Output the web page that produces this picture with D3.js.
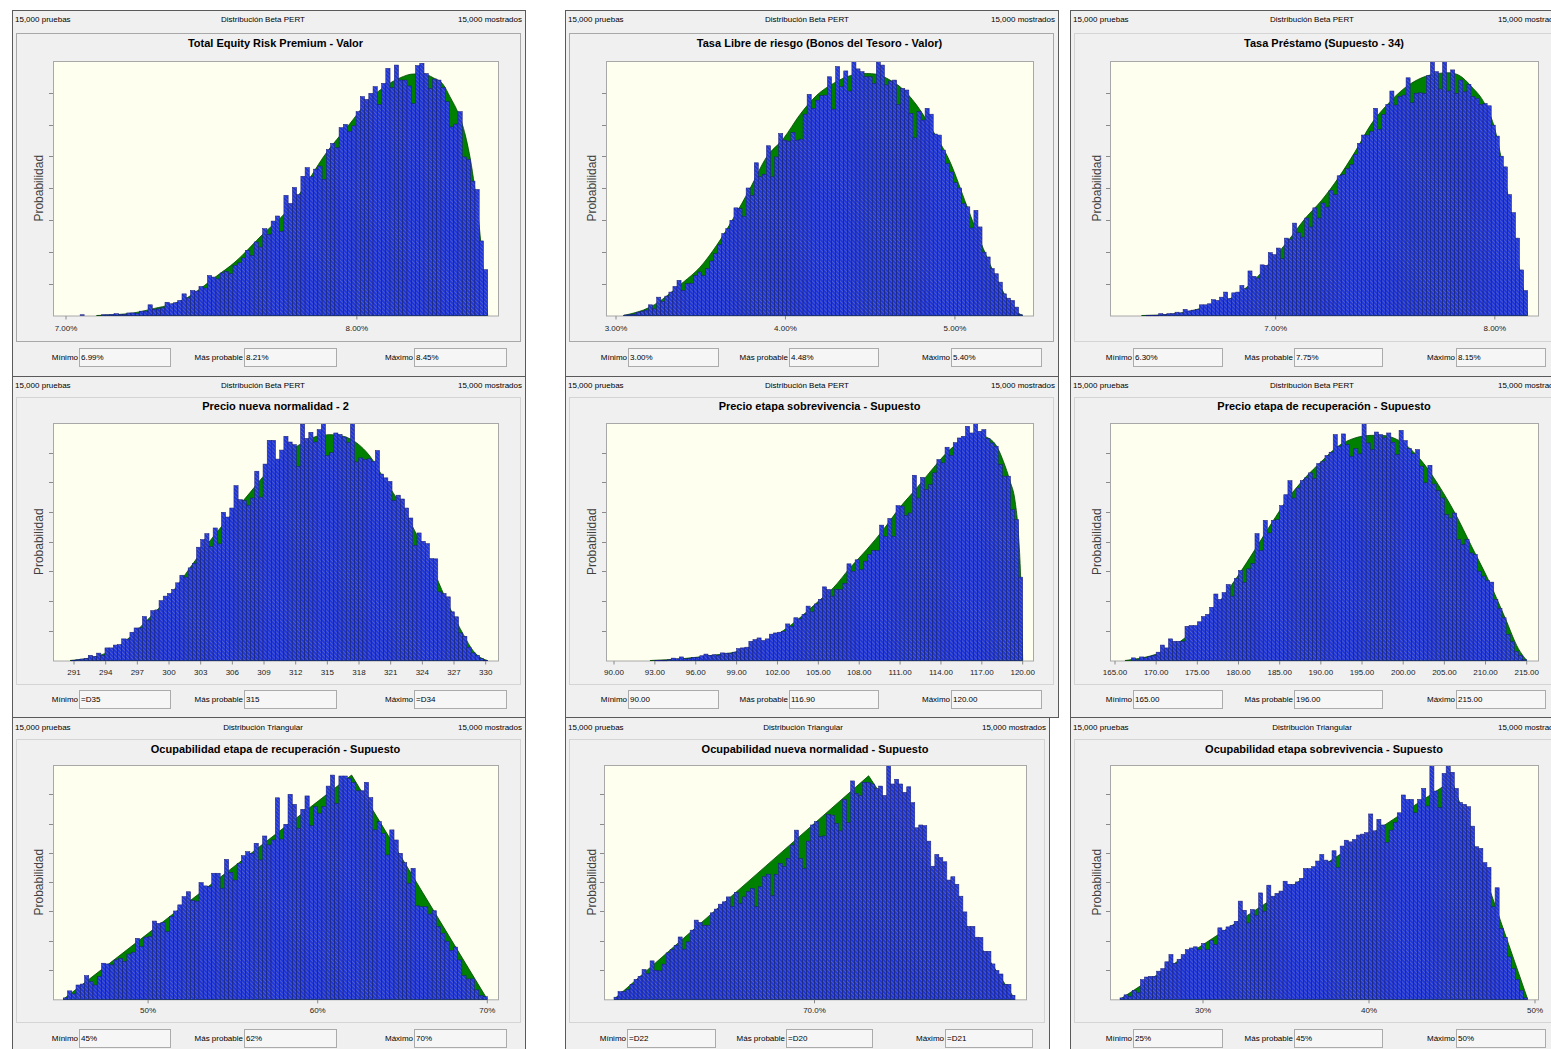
<!DOCTYPE html>
<html>
<head>
<meta charset="utf-8">
<script src="https://cdn.jsdelivr.net/npm/d3@7"></script>
<style>
  body { margin: 0; background: #fff; }
  svg { display: block; }
  text { font-family: 'Liberation Sans', Arial, sans-serif; }
</style>
</head>
<body>
<script>
// ---- data (bar heights are % of the probability axis) ----
var titles = [
  'Total Equity Risk Premium - Valor',
  'Tasa Libre de riesgo (Bonos del Tesoro - Valor)',
  'Tasa Préstamo (Supuesto - 34)',
  'Precio nueva normalidad - 2',
  'Precio etapa sobrevivencia - Supuesto',
  'Precio etapa de recuperación - Supuesto',
  'Ocupabilidad etapa de recuperación - Supuesto',
  'Ocupabilidad nueva normalidad - Supuesto',
  'Ocupabilidad etapa sobrevivencia - Supuesto'
];
var distNames = ['Distribución Beta PERT', 'Distribución Beta PERT', 'Distribución Beta PERT',
  'Distribución Beta PERT', 'Distribución Beta PERT', 'Distribución Beta PERT',
  'Distribución Triangular', 'Distribución Triangular', 'Distribución Triangular'];
var minText = ['6.99%', '3.00%', '6.30%', '=D35', '90.00', '165.00', '45%', '=D22', '25%'];
var modeText = ['8.21%', '4.48%', '7.75%', '315', '116.90', '196.00', '62%', '=D20', '45%'];
var maxText = ['8.45%', '5.40%', '8.15%', '=D34', '120.00', '215.00', '70%', '=D21', '50%'];
var binRanges = [[6.99, 8.45], [3.0, 5.4], [6.3, 8.15], [290.78, 330.19], [90, 120], [165, 215], [45, 70], [60, 80], [25, 49.56]];
var tickValues = [
  [7, 8],
  [3, 4, 5],
  [7, 8],
  [291, 294, 297, 300, 303, 306, 309, 312, 315, 318, 321, 324, 327, 330],
  [90, 93, 96, 99, 102, 105, 108, 111, 114, 117, 120],
  [165, 170, 175, 180, 185, 190, 195, 200, 205, 210, 215],
  [50, 60, 70],
  [70],
  [30, 40, 50]
];

var barsERP = [0,0,0,0,0.3,0,0,0,0,0.3, 0.3,0.4,0.7,0.4,0.4,1.0,1.0,0.8,1.7,1.7,
  4.2,2.4,2.6,3.0,5.2,4.6,5.0,5.9,8.5,6.9, 9.8,9.6,11.4,10.8,15.7,15.1,14.4,16.7,17.3,16.4,
  19.7,20.7,22.6,25.6,23.6,28.9,26.9,34.1,31.9,37.1, 39.1,33.1,47.2,44.0,50.3,47.5,54.7,58.1,54.5,57.5,
  58.7,53.5,65.2,67.6,65.9,73.8,75.1,72.4,74.5,80.1, 86.0,84.9,87.3,89.9,82.9,91.2,97.1,89.5,98.4,92.5,
  92.5,90.2,83.3,98.2,99.1,95.1,89.2,92.9,92.5,89.5, 84.0,74.1,75.2,80.1,62.3,61.3,52.8,49.5,29.3,18.0];
var barsRiskFree = [0,0,0.2,0.3,0.5,1.3,1.6,2.1,4.2,2.6, 7.2,5.5,7.6,9.2,11.4,13.8,9.8,12.5,12.7,15.7,
  17.1,15.7,18.4,21.4,24.3,27.8,32.2,34.1,37.4,42.3, 42.0,39.0,50.1,47.2,60.0,54.5,55.5,66.7,54.5,62.3,
  71.5,68.9,68.5,71.9,68.9,69.3,79.1,86.9,81.4,84.6, 86.4,86.6,93.8,81.1,97.8,89.9,96.1,88.2,100,96.9,
  95.8,93.8,93.8,91.2,100,98.4,90.6,92.1,92.5,82.9, 89.2,88.6,79.4,69.8,80.1,76.8,81.4,79.1,71.3,70.9,
  65.0,59.7,56.4,52.2,50.1,44.0,42.7,34.4,41.3,34.8, 24.9,23.0,18.4,16.4,13.1,8.5,6.8,5.9,3.3,0.3];
var barsLoan = [0,0,0,0,0,0,0.1,0.1,0.1,0.7, 0.4,0.7,0.7,1.3,1.0,2.4,1.8,2.1,2.4,4.2,
  4.2,4.6,6.2,5.9,7.2,9.2,6.6,8.9,9.2,11.8, 10.5,17.5,15.4,14.7,19.9,19.7,24.7,23.9,26.5,22.3,
  30.4,29.9,36.3,32.5,30.8,38.3,34.8,42.3,38.3,44.2, 42.6,49.2,47.5,54.9,55.4,57.7,59.3,63.3,67.6,70.9,
  70.9,72.4,81.4,73.2,79.0,82.9,88.2,82.7,86.0,86.6, 93.4,83.6,87.3,87.5,87.3,94.2,100,95.8,89.0,100,
  88.2,96.5,87.3,92.5,87.9,90.8,86.0,85.3,83.0,83.3, 82.4,74.8,70.5,62.6,58.4,47.5,40.4,30.4,17.9,9.8];
var barsPriceNormal = [0.1,0.3,0.6,0.8,2.2,1.7,3.1,2.2,5.3,5.3, 6.5,6.7,9.1,9.0,11.9,13.7,13.7,18.5,17.0,21.0,
  21.3,25.2,27.1,28.2,29.9,32.7,35.9,35.1,39.0,40.8, 47.7,50.9,53.4,48.0,55.8,49.1,62.4,60.4,64.2,73.6,
  67.7,67.3,65.4,68.4,79.7,68.8,82.7,92.7,92.7,84.8, 88.6,94.4,92.0,90.9,81.8,99.6,93.5,96.1,92.0,97.2,
  99.7,86.3,87.5,95.8,95.2,94.1,91.9,99.7,83.6,85.3, 84.6,84.9,83.9,88.4,78.5,76.9,75.4,67.3,69.6,68.0,
  64.2,60.0,48.5,53.7,50.2,49.2,42.9,42.8,28.9,28.2, 26.8,20.5,18.4,11.6,10.2,5.6,3.2,2.2,0.8,0.1];
var barsPriceSurvival = [0,0,0,0,0,0,0,0,0,0, 0.1,0.1,0.1,0.3,1.0,0.7,1.5,0.7,0.8,1.3,
  1.3,2.0,2.7,2.1,2.4,2.2,3.2,3.1,2.9,3.5, 5.0,5.3,5.6,8.1,8.8,9.5,8.4,9.1,11.1,11.6,
  11.9,12.3,15.4,14.4,18.0,17.5,19.4,22.9,20.5,23.8, 25.7,31.0,29.9,27.1,29.9,29.9,32.5,40.7,37.6,42.4,
  38.3,41.8,44.6,46.3,46.3,57.0,52.3,59.8,52.3,65.2, 65.0,61.0,62.1,78.0,68.4,77.1,72.0,74.0,79.0,84.6,
  83.2,89.8,86.4,91.7,93.7,94.4,98.6,95.8,100,96.5, 97.2,93.4,91.6,90.2,82.5,77.6,77.6,63.5,59.3,35.1];
var barsPriceRecovery = [0,0,0,0,1.1,0.3,1.5,1.1,1.7,2.1, 3.5,6.5,5.3,9.1,8.1,8.1,8.1,14.4,14.7,14.7,
  16.3,18.5,19.4,22.4,28.0,25.7,28.6,32.0,27.1,34.5, 37.9,32.9,38.6,40.8,53.4,46.3,59.0,53.7,59.0,59.3,
  65.2,69.8,75.7,68.4,72.6,75.7,76.9,79.0,76.6,82.9, 83.9,86.3,87.7,95.1,90.2,95.4,90.9,86.0,89.2,87.0,
  99.9,91.6,88.8,96.2,95.1,93.7,95.8,91.9,86.7,96.9, 92.6,89.2,87.0,88.8,81.8,74.8,82.2,74.3,71.5,68.4,
  61.4,60.0,62.1,50.9,48.8,50.9,45.3,44.6,37.6,35.5, 33.7,33.0,25.7,21.9,18.0,11.0,7.9,3.9,2.2,0.4];
var barsOccRecovery = [0.6,3.6,2.3,6.1,6.5,10.1,7.5,6.1,9.7,15.4, 15.1,14.7,16.8,17.5,16.2,19.3,20.1,26.0,22.5,26.5,
  26.7,33.4,32.4,32.7,28.9,35.3,37.7,40.3,43.8,45.9, 42.1,41.9,49.8,48.4,48.1,53.8,53.8,47.4,59.7,54.1,
  50.9,58.0,61.3,63.0,62.3,66.6,59.5,69.7,65.9,68.0, 86.0,68.4,74.7,87.5,83.2,73.0,81.1,86.8,74.1,82.2,
  79.4,82.2,91.0,95.7,83.6,95.3,95.3,94.3,92.5,89.0, 89.0,92.6,86.1,72.3,75.8,70.8,61.6,72.3,68.0,62.3,
  58.3,49.5,55.9,39.9,39.5,39.5,36.4,37.8,31.0,28.2, 24.8,20.9,22.3,16.8,10.1,8.7,8.7,4.0,1.6,1.1];
var barsOccNormal = [0.9,3.3,3.3,4.1,6.4,8.5,9.8,12.7,11.0,16.4, 12.4,12.1,15.0,19.8,21.2,23.0,26.6,21.4,24.5,29.5,
  33.8,32.8,31.6,31.6,36.9,38.5,40.6,41.6,43.7,39.7, 45.6,40.9,43.7,45.9,47.3,39.5,48.0,52.3,53.4,44.2,
  53.3,58.0,56.7,60.1,65.8,72.2,60.1,55.8,67.5,74.4, 75.8,69.4,69.7,78.9,78.6,75.1,71.9,85.3,75.4,93.2,
  87.9,86.9,92.5,92.5,91.9,90.0,91.0,87.0,100,91.9, 93.9,91.9,88.3,90.7,83.9,73.2,74.4,74.1,67.5,56.8,
  61.8,60.5,58.7,50.9,52.3,49.1,44.0,37.3,31.1,31.1, 26.5,26.4,20.5,20.5,15.1,12.3,10.8,6.4,6.4,1.7];
var barsOccSurvival = [0.6,1.9,1.3,3.8,2.8,8.4,9.5,9.8,9.8,12.0, 13.1,16.0,19.1,15.3,17.1,19.1,21.2,21.9,22.4,21.2,
  23.8,21.2,25.2,23.4,30.5,29.5,30.9,31.6,33.3,41.9, 38.0,32.6,38.3,35.9,45.4,37.6,48.7,44.0,45.2,46.2,
  50.4,49.1,49.0,50.1,51.6,55.8,55.8,56.6,59.0,61.8, 59.4,58.7,63.4,56.3,65.4,67.9,67.2,68.2,70.1,70.5,
  71.1,79.1,71.9,76.8,74.4,67.0,72.2,75.5,79.6,87.2, 85.3,85.3,79.6,85.3,90.0,82.5,100,88.9,81.8,96.4,
  100,96.9,90.0,84.0,83.2,82.2,73.9,65.1,64.4,58.3, 56.3,39.5,47.6,30.2,26.4,18.1,13.1,8.5,3.8,0.6];

// fitted distribution outlines (value, % of axis)
var curveERP = [[7.105,0],[7.232,1.0],[7.289,2.4],[7.404,6.2],[7.518,15.5],[7.581,21.0],[7.679,32.2],[7.748,39.6],
  [7.816,49.9],[7.885,62.3],[7.977,75.5],[8.046,85.3],[8.091,89.5],[8.149,93.4],[8.195,94.9],[8.229,94.9],
  [8.263,93.4],[8.298,90.6],[8.320,86.0],[8.349,79.4],[8.373,70.9],[8.401,53.8],[8.424,31.5],[8.435,17],[8.45,0]];
var curveRiskFree = [[3.043,0],[3.201,3.3],[3.397,13.1],[3.496,19.0],[3.594,27.6],[3.692,38.1],[3.791,49.9],
  [3.889,62.3],[3.988,69.5],[4.086,79.0],[4.184,86.5],[4.283,91.2],[4.381,94.2],[4.479,95.1],[4.538,94.8],
  [4.617,92.5],[4.676,89.9],[4.774,82.7],[4.873,72.2],[4.971,60.4],[5.069,43.3],[5.168,26.2],[5.266,11.8],[5.345,2.6],[5.40,0]];
var curveLoan = [[6.388,0],[6.525,0.5],[6.677,3.3],[6.829,8.5],[6.906,14.2],[6.982,21.7],[7.058,29.5],[7.134,38.1],
  [7.210,45.3],[7.286,54.1],[7.362,64.3],[7.438,75.5],[7.514,83.3],[7.590,89.5],[7.666,93.4],[7.742,95.1],
  [7.788,95.4],[7.834,94.5],[7.894,89.9],[7.955,83.0],[8.001,73.0],[8.031,61.0],[8.062,46.0],[8.092,29.0],[8.115,17.0],[8.141,5],[8.15,0]];
var curvePriceNormal = [[290.62,0],[293.46,2.2],[295.04,5.3],[296.62,11.2],[298.20,18.2],[299.78,25.7],[301.36,35.1],
  [302.94,44.9],[304.51,53.9],[306.09,62.3],[307.67,70.7],[309.25,79.1],[310.83,86.1],[312.41,91.0],[313.99,94.4],
  [315.25,95.1],[316.51,94.4],[317.78,91.6],[319.04,86.0],[320.30,77.0],[321.88,66.0],[323.46,53.0],[325.04,38.0],
  [326.62,22.0],[327.88,11.0],[328.83,4.0],[329.77,0.6],[330.19,0]];
var curvePriceSurvival = [[92.64,0],[95.09,0.8],[97.54,2.4],[98.76,3.4],[99.98,5.3],[101.21,8.4],[102.43,12.6],
  [103.65,18.0],[104.88,24.3],[106.10,30.6],[107.32,39.0],[108.55,46.7],[109.77,55.1],[110.99,64.5],[112.22,72.6],
  [113.44,81.1],[114.66,88.8],[115.89,93.7],[116.62,95.1],[117.36,94.0],[118.09,90.2],[118.58,83.9],[119.07,75.5],
  [119.44,67.1],[119.69,53.0],[119.85,34.8],[120.0,0]];
var curvePriceRecovery = [[166.21,0],[167.83,0.8],[169.86,2.5],[171.88,5.6],[173.91,10.7],[175.93,17.3],[177.96,26.0],
  [179.98,35.9],[182.00,46.7],[184.03,57.9],[186.05,68.4],[188.08,76.9],[190.10,83.9],[192.13,90.3],[194.15,93.7],
  [196.17,94.8],[197.39,94.8],[198.60,94.0],[200.22,91.0],[202.25,84.0],[204.27,74.0],[206.30,62.0],[208.32,48.0],
  [210.34,34.0],[212.37,18.0],[213.99,5.0],[215.0,0]];
var curveOccRecovery = [[45,0],[62,95.7],[70,0]];
var curveOccNormal = [[60,0],[72.7,95.4],[80,0]];
var curveOccSurvival = [[25,0],[45,93.3],[49.56,0]];

var barSeries = [barsERP, barsRiskFree, barsLoan, barsPriceNormal, barsPriceSurvival, barsPriceRecovery,
  barsOccRecovery, barsOccNormal, barsOccSurvival];
var curveSeries = [curveERP, curveRiskFree, curveLoan, curvePriceNormal, curvePriceSurvival, curvePriceRecovery,
  curveOccRecovery, curveOccNormal, curveOccSurvival];

var pct2 = function (d) { return d.toFixed(2) + '%'; };
var num2 = function (d) { return d.toFixed(2); };
var tickFormats = [pct2, pct2, pct2, function (d) { return d; }, num2, num2,
  function (d) { return d + '%'; }, function (d) { return d.toFixed(1) + '%'; }, function (d) { return d + '%'; }];

// ---- layout ----
var rows = [
  { top: 10, bottom: 376, head: 19, title: 43, plotTop: 61, plotBottom: 315.5, tickY: 328, boxTop: 348, chartTop: 33, chartBottom: 341 },
  { top: 376, bottom: 717, head: 385, title: 406, plotTop: 423, plotBottom: 660.5, tickY: 672, boxTop: 690, chartTop: 397, chartBottom: 684 },
  { top: 717, bottom: 1062, head: 727, title: 749, plotTop: 765, plotBottom: 999.3, tickY: 1010, boxTop: 1029, chartTop: 739, chartBottom: 1022 }
];
var cols = [
  { left: 12, right: 525, plotL: 53, plotR: 498, headC: 263, probX: 39, boxes: [[79, 170], [244, 336], [414, 506]] },
  { left: 565, right: 1058, plotL: 606, plotR: 1033, headC: 807, probX: 592, boxes: [[628, 718], [789, 878], [951, 1041]] },
  { left: 1070, right: 1565, plotL: 1110, plotR: 1538, headC: 1312, probX: 1097, boxes: [[1133, 1222], [1294, 1382], [1456, 1545]] }
];
var colNarrow = { left: 565, right: 1049, plotL: 604, plotR: 1026, headC: 803, probX: 592, boxes: [[627, 715], [786, 872], [945, 1032]] };
var binPx = [[63.1, 487.7], [616, 1022.7], [1122.3, 1527.7], [71.7, 487.7], [614, 1022.7], [1115, 1526.7],
  [63.3, 487.3], [614, 1015], [1120, 1527.7]];
var boxLabels = ['Mínimo', 'Más probable', 'Máximo'];

var svg = d3.select('body').append('svg').attr('width', 1551).attr('height', 1049);
var defs = svg.append('defs');

var hatch = defs.append('pattern')
  .attr('id', 'hatch')
  .attr('patternUnits', 'userSpaceOnUse')
  .attr('width', 2.8)
  .attr('height', 10)
  .attr('patternTransform', 'rotate(-45)');
hatch.append('rect').attr('width', 2.8).attr('height', 10).attr('fill', '#1c33de');
hatch.append('line')
  .attr('x1', 0.5).attr('y1', 0).attr('x2', 0.5).attr('y2', 10)
  .attr('stroke', '#5e6ab4')
  .attr('stroke-width', 0.75);

titles.forEach(function (title, i) {
  var r = rows[Math.floor(i / 3)];
  var c = i === 7 ? colNarrow : cols[i % 3];
  var bars = barSeries[i];
  var bins = binRanges[i];
  var g = svg.append('g');

  // panel frame
  g.append('rect')
    .attr('x', c.left + 0.5)
    .attr('y', r.top + 0.5)
    .attr('width', c.right - c.left)
    .attr('height', r.bottom - r.top)
    .attr('fill', '#f0f0f0')
    .attr('stroke', '#5a5a5a');

  // header line
  g.append('text').attr('x', c.left + 3).attr('y', r.head).attr('dy', '0.35em')
    .attr('font-size', '8px').text('15,000 pruebas');
  g.append('text').attr('x', c.headC).attr('y', r.head).attr('dy', '0.35em')
    .attr('font-size', '8px').attr('text-anchor', 'middle').text(distNames[i]);
  g.append('text').attr('x', c.right - 3).attr('y', r.head).attr('dy', '0.35em')
    .attr('font-size', '8px').attr('text-anchor', 'end').text('15,000 mostrados');

  // chart frame (dotted on the selected charts)
  g.append('rect')
    .attr('x', c.left + 4.5)
    .attr('y', r.chartTop + 0.5)
    .attr('width', c.right - c.left - 9)
    .attr('height', r.chartBottom - r.chartTop)
    .attr('fill', 'none')
    .attr('stroke', i < 2 ? '#606060' : '#d4d4d4')
    .attr('stroke-dasharray', i < 2 ? '1,1' : null);

  g.append('text')
    .attr('x', (c.plotL + c.plotR) / 2)
    .attr('y', r.title)
    .attr('dy', '0.35em')
    .attr('font-size', '11px')
    .attr('font-weight', 'bold')
    .attr('text-anchor', 'middle')
    .text(title);

  var x = d3.scaleLinear().domain(bins).range(binPx[i]);
  var y = d3.scaleLinear().domain([0, 100]).range([r.plotBottom, r.plotTop]);
  var step = (bins[1] - bins[0]) / bars.length;

  g.append('rect')
    .attr('x', c.plotL + 0.5)
    .attr('y', r.plotTop + 0.5)
    .attr('width', c.plotR - c.plotL)
    .attr('height', r.plotBottom - r.plotTop)
    .attr('fill', '#fffff0')
    .attr('stroke', '#a8a8a8');

  defs.append('clipPath').attr('id', 'clip' + i)
    .append('rect')
    .attr('x', c.plotL + 1)
    .attr('y', r.plotTop + 1)
    .attr('width', c.plotR - c.plotL - 1)
    .attr('height', r.plotBottom - r.plotTop);

  var plot = g.append('g').attr('clip-path', 'url(#clip' + i + ')');

  var area = d3.area()
    .x(function (d) { return x(d[0]); })
    .y0(y(0))
    .y1(function (d) { return y(d[1]); })
    .curve(curveSeries[i].length > 3 ? d3.curveMonotoneX : d3.curveLinear);

  plot.append('path')
    .datum(curveSeries[i])
    .attr('d', area)
    .attr('fill', '#008000')
    .attr('stroke', '#004800')
    .attr('stroke-width', 0.8);

  plot.selectAll('.bar')
    .data(bars.map(function (v, k) { return { v: v, k: k }; }).filter(function (d) { return d.v > 0; }))
    .enter()
    .append('rect')
    .attr('class', 'bar')
    .attr('x', function (d) { return x(bins[0] + d.k * step); })
    .attr('width', function (d) { return x(bins[0] + (d.k + 1) * step) - x(bins[0] + d.k * step); })
    .attr('y', function (d) { return y(d.v); })
    .attr('height', function (d) { return Math.max(0.6, y(0) - y(d.v)); })
    .attr('fill', 'url(#hatch)')
    .attr('stroke', '#1a1f78')
    .attr('stroke-width', 0.55);

  // probability ticks (no labels)
  g.selectAll('.ytick')
    .data([12.5, 25, 37.5, 50, 62.5, 75, 87.5])
    .enter()
    .append('line')
    .attr('x1', c.plotL - 4).attr('x2', c.plotL)
    .attr('y1', function (d) { return Math.round(y(d)) + 0.5; })
    .attr('y2', function (d) { return Math.round(y(d)) + 0.5; })
    .attr('stroke', '#8a8a8a');

  g.selectAll('.xtick')
    .data(tickValues[i])
    .enter()
    .append('line')
    .attr('x1', function (d) { return x(d); }).attr('x2', function (d) { return x(d); })
    .attr('y1', r.plotBottom + 0.5).attr('y2', r.plotBottom + 4)
    .attr('stroke', '#8a8a8a');

  g.selectAll('.xlabel')
    .data(tickValues[i])
    .enter()
    .append('text')
    .attr('x', function (d) { return x(d); })
    .attr('y', r.tickY)
    .attr('dy', '0.35em')
    .attr('font-size', '8px')
    .attr('text-anchor', 'middle')
    .attr('fill', '#222')
    .text(tickFormats[i]);

  g.append('text')
    .attr('transform', 'translate(' + c.probX + ',' + (r.plotTop + r.plotBottom) / 2 + ') rotate(-90)')
    .attr('dy', '0.35em')
    .attr('font-size', '12px')
    .attr('text-anchor', 'middle')
    .attr('fill', '#404040')
    .text('Probabilidad');

  // parameter boxes
  var values = [minText[i], modeText[i], maxText[i]];
  c.boxes.forEach(function (b, k) {
    g.append('rect')
      .attr('x', b[0] + 0.5).attr('y', r.boxTop + 0.5)
      .attr('width', b[1] - b[0]).attr('height', 18)
      .attr('fill', '#f6f6f6').attr('stroke', '#ababab');
    g.append('text')
      .attr('x', b[0] - 1).attr('y', r.boxTop + 9.5).attr('dy', '0.35em')
      .attr('font-size', '8px').attr('text-anchor', 'end')
      .text(boxLabels[k]);
    g.append('text')
      .attr('x', b[0] + 2).attr('y', r.boxTop + 9.5).attr('dy', '0.35em')
      .attr('font-size', '8px')
      .text(values[k]);
  });
});
</script>
</body>
</html>
